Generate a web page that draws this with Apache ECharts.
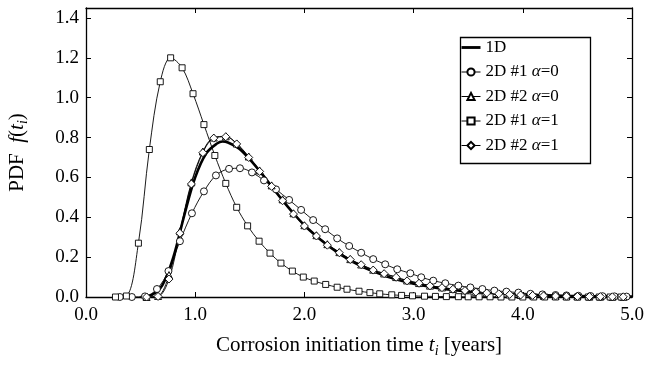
<!DOCTYPE html>
<html>
<head>
<meta charset="utf-8">
<script src="https://cdn.jsdelivr.net/npm/echarts@6/dist/echarts.min.js"></script>
<style>html,body{margin:0;padding:0;background:#fff;}#c{width:657px;height:367px;}</style>
</head>
<body>
<div id="c"></div>
<script>
// ---- data ----
const xTicks = [0, 1, 2, 3, 4, 5];
const yTicks = [0, 0.2, 0.4, 0.6, 0.8, 1.0, 1.2, 1.4];

const names = ['1D', '2D #1 α=0', '2D #2 α=0', '2D #1 α=1', '2D #2 α=1'];

// 1D (thick line, no markers)
const x1D = [0.5, 0.6, 0.7, 0.8, 0.9, 1.0, 1.1, 1.2, 1.25, 1.3, 1.4, 1.5, 1.6, 1.7, 1.8, 1.9, 2.0, 2.1, 2.2, 2.3, 2.4, 2.5, 2.6, 2.7, 2.8, 2.9, 3.0, 3.2, 3.4, 3.6, 3.8, 4.0, 4.2, 4.4, 4.6, 4.8, 5.0];
const y1D = [0, 0.01, 0.06, 0.2, 0.41, 0.6, 0.72, 0.77, 0.78, 0.775, 0.745, 0.69, 0.625, 0.555, 0.485, 0.42, 0.36, 0.31, 0.265, 0.225, 0.19, 0.16, 0.135, 0.114, 0.095, 0.08, 0.067, 0.047, 0.033, 0.023, 0.016, 0.011, 0.008, 0.005, 0.004, 0.003, 0.002];

// 2D #1 alpha=0 (circles)
const xC = [0.31, 0.42, 0.54, 0.65, 0.755, 0.86, 0.97, 1.08, 1.19, 1.31, 1.41, 1.52, 1.63, 1.74, 1.86, 1.97, 2.08, 2.19, 2.30, 2.41, 2.52, 2.63, 2.74, 2.85, 2.97, 3.07, 3.18, 3.29, 3.41, 3.52, 3.63, 3.74, 3.85, 3.96, 4.07, 4.18, 4.30, 4.40, 4.51, 4.62, 4.73, 4.84, 4.95];
const yC = [0, 0, 0.003, 0.04, 0.13, 0.28, 0.42, 0.53, 0.61, 0.643, 0.646, 0.625, 0.585, 0.54, 0.487, 0.437, 0.386, 0.34, 0.294, 0.256, 0.222, 0.19, 0.164, 0.139, 0.119, 0.099, 0.082, 0.069, 0.057, 0.048, 0.04, 0.032, 0.027, 0.022, 0.016, 0.013, 0.01, 0.008, 0.006, 0.005, 0.004, 0.003, 0.002];

// 2D #2 (triangles: alpha=0, diamonds: alpha=1) share sample positions
const xD = [0.555, 0.66, 0.76, 0.86, 0.965, 1.07, 1.17, 1.28, 1.38, 1.49, 1.59, 1.70, 1.80, 1.90, 2.00, 2.11, 2.21, 2.32, 2.42, 2.52, 2.63, 2.73, 2.84, 2.94, 3.05, 3.15, 3.26, 3.36, 3.47, 3.57, 3.67, 3.78, 3.88, 3.98, 4.09, 4.19, 4.30, 4.40, 4.50, 4.61, 4.71, 4.82, 4.92];
const yT = [0, 0.005, 0.11, 0.33, 0.575, 0.73, 0.80, 0.806, 0.77, 0.705, 0.635, 0.56, 0.49, 0.42, 0.36, 0.31, 0.265, 0.225, 0.19, 0.163, 0.137, 0.118, 0.1, 0.083, 0.07, 0.057, 0.048, 0.04, 0.033, 0.026, 0.021, 0.017, 0.013, 0.01, 0.008, 0.006, 0.005, 0.004, 0.003, 0.002, 0.002, 0.001, 0.001];
const yD = [0, 0.003, 0.09, 0.32, 0.567, 0.724, 0.797, 0.804, 0.768, 0.70, 0.63, 0.555, 0.483, 0.416, 0.356, 0.306, 0.26, 0.222, 0.188, 0.162, 0.135, 0.117, 0.099, 0.081, 0.069, 0.056, 0.047, 0.039, 0.032, 0.025, 0.02, 0.016, 0.013, 0.01, 0.008, 0.006, 0.005, 0.004, 0.003, 0.002, 0.002, 0.001, 0.001];

// 2D #1 alpha=1 (squares)
const xS = [0.27, 0.37, 0.48, 0.58, 0.68, 0.775, 0.88, 0.98, 1.08, 1.18, 1.28, 1.38, 1.48, 1.585, 1.685, 1.785, 1.89, 1.99, 2.09, 2.195, 2.30, 2.39, 2.50, 2.60, 2.69, 2.80, 2.89, 2.99, 3.10, 3.20, 3.30, 3.41, 3.50, 3.60, 3.70, 3.80, 3.90, 4.00, 4.10, 4.20, 4.30, 4.40, 4.50, 4.60, 4.70, 4.80, 4.90];
const yS = [0, 0.005, 0.27, 0.74, 1.08, 1.20, 1.15, 1.02, 0.865, 0.71, 0.57, 0.45, 0.357, 0.28, 0.22, 0.17, 0.13, 0.10, 0.08, 0.063, 0.049, 0.039, 0.029, 0.022, 0.016, 0.011, 0.008, 0.006, 0.004, 0.003, 0.002, 0.0015, 0.001, 0.001, 0.001, 0, 0, 0, 0, 0, 0, 0, 0, 0, 0, 0, 0];

// ---- chart ----
const FF = '"Liberation Serif", "Times New Roman", serif';
const pairs = (xs, ys) => xs.map((x, i) => [x, ys[i]]);
const chart = echarts.init(document.getElementById('c'), null, {renderer: 'canvas'});

function markerSeries(name, symbol, size, xs, ys) {
  return {
    name, type: 'line', data: pairs(xs, ys), smooth: 0.35,
    symbol, symbolSize: size, showSymbol: true,
    lineStyle: {color: '#000', width: 0.9},
    itemStyle: {color: '#fff', borderColor: '#000', borderWidth: 0.9},
    emphasis: {disabled: true}, animation: false, z: 3
  };
}

const tickCommon = {show: true, inside: true, length: 5, lineStyle: {color: '#000', width: 1}};
const lineCommon = {show: true, onZero: false, lineStyle: {color: '#000', width: 1.3}};
const titleRich = {
  it: {fontFamily: FF, fontSize: 21, fontStyle: 'italic', lineHeight: 26, color: '#000'},
  sub: {fontFamily: FF, fontSize: 14, fontStyle: 'italic', verticalAlign: 'bottom', lineHeight: 14, color: '#000'}
};

chart.setOption({
  animation: false,
  backgroundColor: '#fff',
  grid: {left: 86, right: 25, top: 8, bottom: 70, containLabel: false, outerBoundsMode: 'none'},
  legend: {
    orient: 'vertical', left: 461, top: 39, padding: 0, itemGap: 7.5,
    itemWidth: 19, itemHeight: 9,
    lineStyle: {width: 1, color: '#000'},
    data: [
      {name: names[0], icon: 'path://M0,0 L20,0 L20,3 L0,3 Z', itemStyle: {color: '#000', borderWidth: 0}},
      names[1], names[2], names[3], names[4]
    ],
    formatter: n => n.replace('α', '{i|α}'),
    textStyle: {fontFamily: FF, fontSize: 17, lineHeight: 17, color: '#000',
      rich: {i: {fontFamily: FF, fontSize: 17, lineHeight: 17, fontStyle: 'italic', color: '#000'}}}
  },
  graphic: [{type: 'rect', left: 458, top: 35, shape: {width: 130, height: 126},
    style: {fill: 'none', stroke: '#000', lineWidth: 1.3}, z: 100}],
  xAxis: [{
    type: 'value', min: xTicks[0], max: xTicks[xTicks.length - 1], interval: 1,
    axisLine: lineCommon, axisTick: tickCommon, splitLine: {show: false},
    axisLabel: {fontFamily: FF, fontSize: 19, color: '#000', margin: 9, formatter: v => v.toFixed(1)},
    name: 'Corrosion initiation time {it|t}{sub|i} [years]',
    nameLocation: 'middle', nameGap: 35,
    nameTextStyle: {fontFamily: FF, fontSize: 21, color: '#000', lineHeight: 26, rich: titleRich}
  }, {
    type: 'value', position: 'top', min: 0, max: 5, interval: 1,
    axisLine: lineCommon, axisTick: tickCommon, axisLabel: {show: false}, splitLine: {show: false}
  }],
  yAxis: [{
    type: 'value', min: 0, max: 1.45, interval: 0.2,
    axisLine: lineCommon, axisTick: tickCommon, splitLine: {show: false},
    axisLabel: {fontFamily: FF, fontSize: 19, color: '#000', margin: 7, showMaxLabel: false,
      formatter: v => (yTicks.some(t => Math.abs(t - v) < 1e-6) ? v.toFixed(1) : '')},
    name: 'PDF  {it|f}({it|t}{sub|i})',
    nameLocation: 'middle', nameGap: 56, nameRotate: 90,
    nameTextStyle: {fontFamily: FF, fontSize: 21, color: '#000', lineHeight: 26, rich: titleRich}
  }, {
    type: 'value', position: 'right', min: 0, max: 1.45, interval: 0.2,
    axisLine: lineCommon, axisTick: tickCommon, axisLabel: {show: false}, splitLine: {show: false}
  }],
  series: [
    {name: names[0], type: 'line', data: pairs(x1D, y1D), smooth: 0.35, showSymbol: false, symbol: 'none',
     lineStyle: {color: '#000', width: 2.6}, itemStyle: {color: '#000'}, emphasis: {disabled: true}, z: 2},
    markerSeries(names[1], 'circle', 7, xC, yC),
    markerSeries(names[2], 'triangle', 7, xD, yT),
    markerSeries(names[3], 'rect', 6, xS, yS),
    markerSeries(names[4], 'diamond', 8, xD, yD)
  ]
});
</script>
</body>
</html>
